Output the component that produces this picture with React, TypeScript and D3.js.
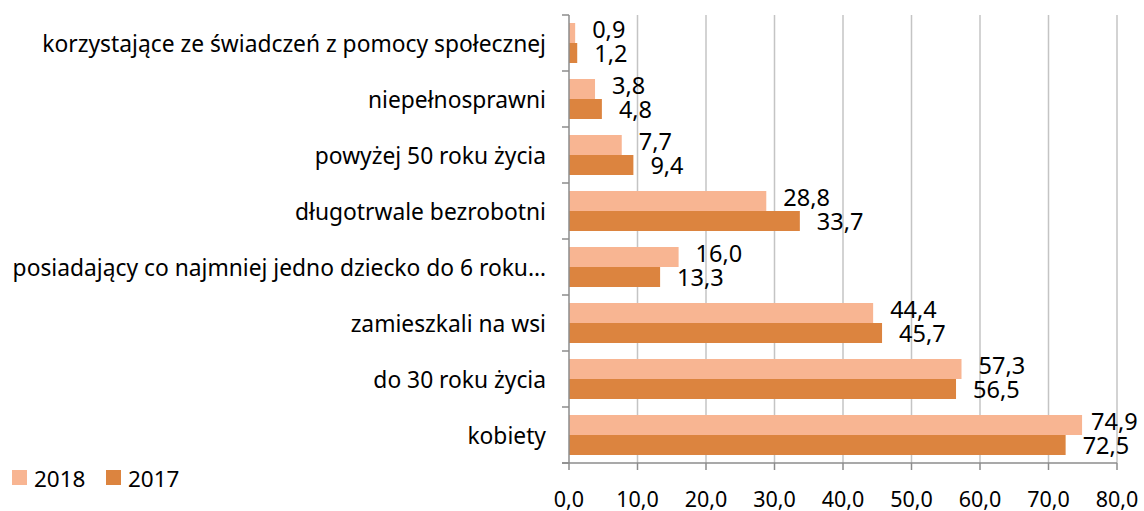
import React from "react";
import * as d3 from "d3";

const categories = [
  "korzystające ze świadczeń z pomocy społecznej",
  "niepełnosprawni",
  "powyżej 50 roku życia",
  "długotrwale bezrobotni",
  "posiadający co najmniej jedno dziecko do 6 roku…",
  "zamieszkali na wsi",
  "do 30 roku życia",
  "kobiety",
];
const values2018 = [0.9, 3.8, 7.7, 28.8, 16.0, 44.4, 57.3, 74.9];
const values2017 = [1.2, 4.8, 9.4, 33.7, 13.3, 45.7, 56.5, 72.5];
const seriesNames = ["2018", "2017"];
const xTicks = [0, 10, 20, 30, 40, 50, 60, 70, 80];

const W = 1144;
const H = 511;
const FONT = "'Noto Sans', sans-serif";
const C_LIGHT = "#F8B592";
const C_DARK = "#DC843F";
const fmt = (v: number) => v.toFixed(1).replace(".", ",");

export default function App() {
  const x = d3.scaleLinear().domain([0, 80]).range([569, 1117]);
  const y = d3.scaleBand<string>().domain(categories).range([15, 463]).paddingInner(0).paddingOuter(0);
  const inner = d3.scaleBand<string>().domain(seriesNames).range([0, y.bandwidth()]).paddingInner(0).paddingOuter(0.4);
  const series = [
    { name: "2018", values: values2018, color: C_LIGHT, dy: -4 },
    { name: "2017", values: values2017, color: C_DARK, dy: 0 },
  ];
  return (
    <svg width={W} height={H} style={{ position: "absolute", left: 0, top: 0, background: "#fff" }} fontFamily={FONT}>
      {xTicks.slice(1).map((t) => (
        <line key={"g" + t} x1={x(t)} x2={x(t)} y1={15} y2={463} stroke="#c4c4c4" strokeWidth={1.5} />
      ))}
      {series.map((s) =>
        s.values.map((v, i) => (
          <rect
            key={s.name + i}
            x={x(0)}
            y={(y(categories[i]) as number) + (inner(s.name) as number)}
            width={x(v) - x(0)}
            height={inner.bandwidth()}
            fill={s.color}
          />
        ))
      )}
      {/* axes */}
      <line x1={x(0)} x2={x(0)} y1={15} y2={463} stroke="#8c8c8c" strokeWidth={1.5} />
      <line x1={x(0) - 7} x2={x(80)} y1={463} y2={463} stroke="#8c8c8c" strokeWidth={1.5} />
      {d3.range(categories.length + 1).map((i) => {
        const yy = 15 + i * y.step();
        return <line key={"yt" + i} x1={x(0) - 7} x2={x(0)} y1={yy} y2={yy} stroke="#8c8c8c" strokeWidth={1.5} />;
      })}
      {xTicks.map((t) => (
        <g key={"xt" + t}>
          <line x1={x(t)} x2={x(t)} y1={463} y2={470} stroke="#8c8c8c" strokeWidth={1.5} />
          <text x={x(t)} y={498} textAnchor="middle" dominantBaseline="central" fontSize={21.5} fill="#000">
            {fmt(t)}
          </text>
        </g>
      ))}
      {categories.map((c) => (
        <text key={c} x={546} y={(y(c) as number) + y.bandwidth() / 2} textAnchor="end" dominantBaseline="central" fontSize={22.8} fill="#000">
          {c}
        </text>
      ))}
      {series.map((s) =>
        s.values.map((v, i) => {
          const lx = Math.min(x(v) + 17, 1091);
          const cy = (y(categories[i]) as number) + (inner(s.name) as number) + inner.bandwidth() / 2 + s.dy;
          return (
            <text key={"l" + s.name + i} x={lx} y={cy} dominantBaseline="central" fontSize={23.5} fill="#000">
              {fmt(v)}
            </text>
          );
        })
      )}
      {/* legend */}
      {series.map((s, i) => {
        const lx = 12 + i * 94;
        return (
          <g key={"lg" + s.name}>
            <rect x={lx} y={470} width={15} height={15} fill={s.color} />
            <text x={lx + 22} y={478} dominantBaseline="central" fontSize={22.5} fill="#000">
              {s.name}
            </text>
          </g>
        );
      })}
    </svg>
  );
}
